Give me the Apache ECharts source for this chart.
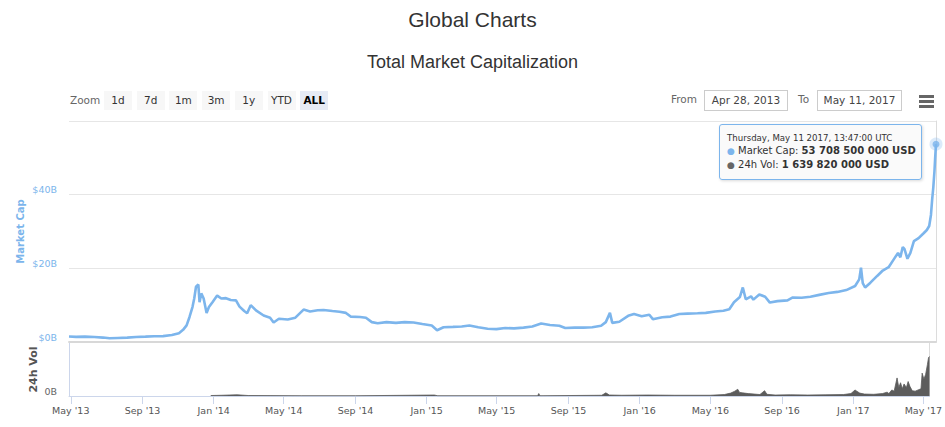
<!DOCTYPE html>
<html>
<head>
<meta charset="utf-8">
<title>Global Charts</title>
<script src="https://cdn.jsdelivr.net/npm/echarts@6/dist/echarts.min.js"></script>
<style>
  body { margin: 0; background: #fff; font-family: "DejaVu Sans", sans-serif; }
  #wrap { position: relative; width: 945px; height: 427px; overflow: hidden; }
  #main { position: absolute; left: 0; top: 0; width: 945px; height: 427px; }
  .lbl { position: absolute; font-size: 10.5px; color: #666; line-height: 19px; }
  .btn { position: absolute; top: 91px; width: 28px; height: 19px; line-height: 19px; text-align: center;
         background: #f7f7f7; color: #333; font-size: 10.5px; }
  .btn.on { background: #e6ebf5; color: #000; font-weight: bold; }
  .box { position: absolute; top: 90px; height: 19px; line-height: 19px; border: 1px solid #ccc;
         text-align: center; font-size: 10.5px; color: #444; }
  .burger { position: absolute; left: 919px; width: 15px; height: 2.5px; background: #666; }
  #tip { position: absolute; left: 719px; top: 124px; width: 203px; height: 56px; box-sizing: border-box;
         border: 1px solid #7cb5ec; border-radius: 3px; background: rgba(250,250,250,0.92);
         box-shadow: 1px 1px 3px rgba(0,0,0,0.15); padding: 7px 0 0 7px; color: #333; }
  #tip .t { font-size: 8.6px; line-height: 12px; }
  #tip .r { font-size: 10px; line-height: 13px; white-space: nowrap; }
  #tip .d { font-size: 9px; }
</style>
</head>
<body>
<div id="wrap">
  <div id="main"></div>
  <div class="lbl" style="left:70px;top:91px;">Zoom</div>
  <div id="btns"></div>
  <div class="lbl" style="left:671px;top:90px;">From</div>
  <div class="box" style="left:704px;width:82px;">Apr 28, 2013</div>
  <div class="lbl" style="left:798px;top:90px;">To</div>
  <div class="box" style="left:817px;width:83px;">May 11, 2017</div>
  <div class="burger" style="top:95px;"></div>
  <div class="burger" style="top:100px;"></div>
  <div class="burger" style="top:105px;"></div>
  <div id="tip"></div>
</div>
<script>
// market cap, billions USD
var capDates = ['2013-04-28','2013-05-10','2013-05-25','2013-06-10','2013-06-25','2013-07-06','2013-07-20','2013-08-05','2013-08-20','2013-09-05','2013-09-20','2013-10-05','2013-10-20','2013-11-01','2013-11-08','2013-11-14','2013-11-19','2013-11-24','2013-11-27','2013-11-30','2013-12-04','2013-12-06','2013-12-09','2013-12-13','2013-12-18','2013-12-22','2013-12-28',
  '2014-01-05','2014-01-12','2014-01-20','2014-01-28','2014-02-06','2014-02-12','2014-02-20','2014-02-25','2014-03-03','2014-03-12','2014-03-25','2014-04-05','2014-04-11','2014-04-20','2014-05-05','2014-05-18','2014-06-01','2014-06-12','2014-06-25','2014-07-05','2014-07-20','2014-08-01','2014-08-12','2014-08-20','2014-09-05','2014-09-15','2014-09-25','2014-10-05','2014-10-20','2014-11-05','2014-11-20','2014-12-05','2014-12-20',
  '2015-01-05','2015-01-14','2015-01-25','2015-02-10','2015-02-25','2015-03-10','2015-03-25','2015-04-10','2015-04-25','2015-05-10','2015-05-25','2015-06-10','2015-06-25','2015-07-10','2015-07-25','2015-08-10','2015-08-20','2015-09-05','2015-09-20','2015-10-05','2015-10-20','2015-10-28','2015-11-04','2015-11-08','2015-11-20','2015-12-05','2015-12-15','2015-12-28',
  '2016-01-10','2016-01-16','2016-02-01','2016-02-15','2016-03-01','2016-03-15','2016-04-01','2016-04-15','2016-05-01','2016-05-15','2016-05-25','2016-06-02','2016-06-12','2016-06-17','2016-06-22','2016-07-01','2016-07-05','2016-07-15','2016-07-25','2016-08-02','2016-08-15','2016-09-01','2016-09-10','2016-09-25','2016-10-10','2016-10-25','2016-11-10','2016-11-25','2016-12-10','2016-12-25',
  '2017-01-01','2017-01-04','2017-01-07','2017-01-11','2017-01-20','2017-02-01','2017-02-10','2017-02-20','2017-03-01','2017-03-08','2017-03-12','2017-03-16','2017-03-19','2017-03-24','2017-03-29','2017-04-04','2017-04-12','2017-04-21','2017-04-26','2017-04-30','2017-05-03','2017-05-05','2017-05-07','2017-05-09','2017-05-10','2017-05-11 13:47'];
var capValues = [1.5,1.4,1.45,1.35,1.2,1.0,1.1,1.2,1.35,1.45,1.55,1.6,1.9,2.4,3.3,4.5,6.8,9.5,11.8,15.0,15.6,10.8,13.2,11.8,7.9,9.5,10.8,
  12.6,11.8,11.9,11.4,11.3,9.6,8.4,7.8,10.0,8.6,7.2,6.6,5.3,6.3,6.1,6.6,8.8,8.3,8.6,8.7,8.4,8.2,7.9,6.9,6.8,6.6,5.4,5.1,5.4,5.2,5.4,5.3,4.9,
  4.5,3.2,4.0,4.1,4.2,4.5,4.0,3.6,3.5,3.8,3.7,3.9,4.2,5.0,4.6,4.4,3.8,3.9,3.9,4.0,4.4,5.4,7.9,5.2,5.5,7.1,7.6,7.0,
  7.4,6.2,6.7,6.9,7.6,7.7,7.8,7.9,8.3,8.5,8.9,10.8,12.2,14.8,11.6,12.4,11.5,12.9,12.3,10.7,11.1,11.3,12.1,12.0,12.3,12.8,13.3,13.6,14.1,15.2,
  17.0,20.2,16.0,14.8,16.1,18.0,19.4,20.3,22.5,24.2,23.0,25.8,25.2,22.6,24.2,27.4,28.2,29.6,30.4,31.5,34.5,38.6,42.0,46.5,49.5,53.7085];

// 24h volume, billions USD
var volDates = ['2013-12-27','2014-01-15','2014-02-10','2014-03-01','2014-06-01','2014-09-01','2015-01-14','2015-01-20','2015-07-10','2015-07-12','2015-07-14','2015-10-28','2015-11-04','2015-11-10','2015-12-01','2016-01-15','2016-03-01','2016-05-01','2016-05-25',
  '2016-06-05','2016-06-12','2016-06-17','2016-06-20','2016-06-25','2016-07-05','2016-07-15','2016-07-25','2016-08-02','2016-08-06','2016-08-20','2016-09-15','2016-10-15','2016-11-15','2016-12-15','2016-12-28',
  '2017-01-04','2017-01-07','2017-01-12','2017-01-20','2017-02-05','2017-02-20','2017-02-28','2017-03-03','2017-03-08','2017-03-12','2017-03-17','2017-03-20','2017-03-23','2017-03-26','2017-03-29','2017-04-02','2017-04-05','2017-04-08','2017-04-12','2017-04-17','2017-04-22','2017-04-27','2017-04-29','2017-05-02','2017-05-05','2017-05-08','2017-05-10','2017-05-11 13:47'];
var volValues = [0.02,0.03,0.05,0.02,0.01,0.01,0.04,0.01,0.01,0.1,0.01,0.03,0.13,0.04,0.03,0.04,0.03,0.03,0.06,
  0.12,0.2,0.28,0.15,0.13,0.1,0.08,0.06,0.22,0.07,0.04,0.05,0.04,0.05,0.06,0.1,
  0.25,0.2,0.12,0.08,0.07,0.1,0.16,0.1,0.25,0.2,0.75,0.35,0.55,0.3,0.5,0.35,0.6,0.4,0.22,0.2,0.25,0.3,0.95,0.7,0.9,1.3,1.6,1.63982];

var tickDates = ['2013-05-01','2013-09-01','2014-01-01','2014-05-01','2014-09-01','2015-01-01','2015-05-01','2015-09-01','2016-01-01','2016-05-01','2016-09-01','2017-01-01','2017-05-01'];
var zoomButtons = ['1d','7d','1m','3m','1y','YTD','ALL'];
var tipTime = 'Thursday, May 11 2017, 13:47:00 UTC';

var MONTHS = ['Jan','Feb','Mar','Apr','May','Jun','Jul','Aug','Sep','Oct','Nov','Dec'];

function ts(s) {
  var p = s.split(/[- :]/);
  return new Date(+p[0], +p[1] - 1, +p[2], +(p[3] || 0), +(p[4] || 0)).getTime();
}
function pairs(dates, vals) {
  return dates.map(function (d, i) { return [ts(d), vals[i]]; });
}
function spaced(v) {
  return String(Math.round(v * 1e9)).replace(/\B(?=(\d{3})+(?!\d))/g, ' ');
}

// toolbar buttons
var btnHtml = '';
zoomButtons.forEach(function (b, i) {
  btnHtml += '<div class="btn' + (b === 'ALL' ? ' on' : '') + '" style="left:' + (104 + i * 32.7) + 'px">' + b + '</div>';
});
document.getElementById('btns').innerHTML = btnHtml;

var lastCap = capValues[capValues.length - 1];
var lastVol = volValues[volValues.length - 1];
document.getElementById('tip').innerHTML =
  '<div class="t">' + tipTime + '</div>' +
  '<div class="r"><span class="d" style="color:#7cb5ec">\u25CF</span> Market Cap: <b>' + spaced(lastCap) + ' USD</b></div>' +
  '<div class="r"><span class="d" style="color:#666">\u25CF</span> 24h Vol: <b>' + spaced(lastVol) + ' USD</b></div>';

var xMin = ts(capDates[0]);
var xMax = ts(capDates[capDates.length - 1]);
var ticks = tickDates.map(ts);
var labelFont = 'DejaVu Sans';

var chart = echarts.init(document.getElementById('main'), null, { renderer: 'svg' });
chart.setOption({
  animation: false,
  title: [
    { text: 'Global Charts', left: 'center', top: 4,
      textStyle: { fontFamily: 'Liberation Sans', fontSize: 21, fontWeight: 'normal', color: '#333' } },
    { text: 'Total Market Capitalization', left: 'center', top: 48,
      textStyle: { fontFamily: 'Liberation Sans', fontSize: 18, fontWeight: 'normal', color: '#333' } }
  ],
  grid: [
    { left: 69, right: 9, top: 121, height: 221 },
    { left: 69, right: 9, top: 343, height: 53 }
  ],
  xAxis: [
    { type: 'value', gridIndex: 0, min: xMin, max: xMax,
      axisLine: { show: true, onZero: false, lineStyle: { color: '#d8d8d8', width: 2 } },
      axisTick: { show: false }, axisLabel: { show: false }, splitLine: { show: false } },
    { type: 'value', gridIndex: 1, min: xMin, max: xMax,
      axisLine: { show: true, onZero: false, lineStyle: { color: '#ccd6eb' } },
      axisTick: { show: true, length: 8, customValues: ticks, lineStyle: { color: '#ccd6eb' } },
      axisLabel: { customValues: ticks, margin: 9, color: '#555', fontFamily: labelFont, fontSize: 9.5,
        formatter: function (v) {
          var d = new Date(v);
          return MONTHS[d.getMonth()] + " '" + String(d.getFullYear()).slice(2);
        } },
      splitLine: { show: false } }
  ],
  yAxis: [
    { type: 'value', gridIndex: 0, min: 0, max: 60, interval: 20,
      name: 'Market Cap', nameLocation: 'middle', nameGap: 44, nameMoveOverlap: false,
      nameTextStyle: { color: '#7cb5ec', fontFamily: labelFont, fontSize: 10, fontWeight: 'bold' },
      axisLine: { show: false }, axisTick: { show: false },
      axisLabel: { margin: 12, color: '#7cb5ec', fontFamily: labelFont, fontSize: 9.5, verticalAlign: 'bottom',
        formatter: function (v) { return v === 60 ? '' : '$' + v + 'B'; } },
      splitLine: { lineStyle: { color: '#e6e6e6' } } },
    { type: 'value', gridIndex: 1, min: 0, max: 2.2, interval: 2.2,
      name: '24h Vol', nameLocation: 'middle', nameGap: 30, nameMoveOverlap: false,
      nameTextStyle: { color: '#555', fontFamily: labelFont, fontSize: 11, fontWeight: 'bold' },
      axisLine: { show: true, lineStyle: { color: '#ccd6eb' } }, axisTick: { show: false },
      axisLabel: { margin: 12, color: '#666', fontFamily: labelFont, fontSize: 9.5, verticalAlign: 'bottom',
        formatter: function (v) { return v === 0 ? '0B' : ''; } },
      splitLine: { show: false } },
    { type: 'value', gridIndex: 0, position: 'right', min: 0, max: 60,
      axisLine: { show: true, lineStyle: { color: '#dcdcdc' } }, axisTick: { show: false },
      axisLabel: { show: false }, splitLine: { show: false } },
    { type: 'value', gridIndex: 1, position: 'right', min: 0, max: 2.2,
      axisLine: { show: true, lineStyle: { color: '#dcdcdc' } }, axisTick: { show: false },
      axisLabel: { show: false }, splitLine: { show: false } }
  ],
  series: [
    { name: 'Market Cap', type: 'line', xAxisIndex: 0, yAxisIndex: 0,
      data: pairs(capDates, capValues), symbol: 'none',
      lineStyle: { color: '#7cb5ec', width: 2.6 } },
    { name: '24h Vol', type: 'line', xAxisIndex: 1, yAxisIndex: 1,
      data: pairs(volDates, volValues), symbol: 'none',
      lineStyle: { color: '#5c5c5c', width: 0.8 }, areaStyle: { color: '#5c5c5c', opacity: 1 } },
    { name: 'hover', type: 'scatter', xAxisIndex: 0, yAxisIndex: 0,
      data: [[xMax, lastCap]], symbolSize: 7,
      itemStyle: { color: '#7cb5ec', borderColor: 'rgba(124,181,236,0.35)', borderWidth: 6 } }
  ]
});
</script>
</body>
</html>
